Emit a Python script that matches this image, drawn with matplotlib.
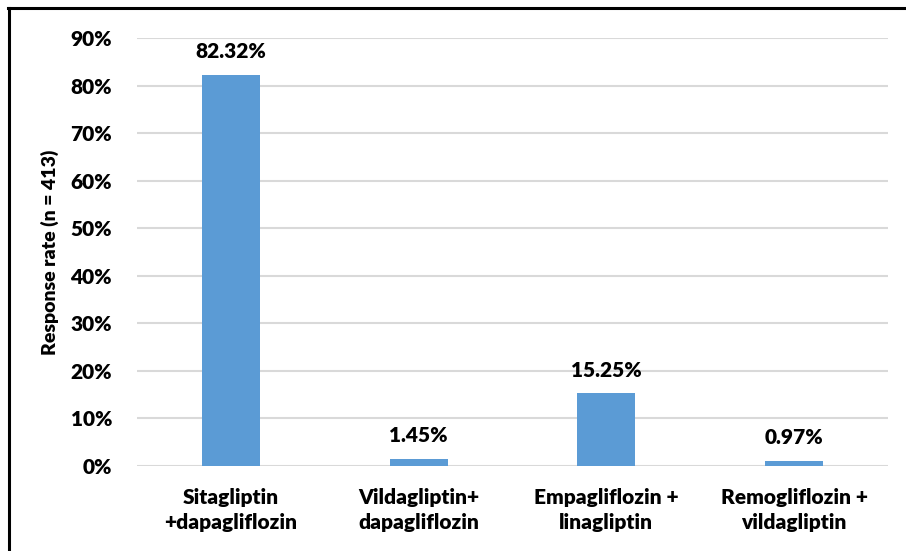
import matplotlib
matplotlib.use("Agg")
import matplotlib.pyplot as plt
from matplotlib.lines import Line2D
from matplotlib.ticker import FuncFormatter

categories = ["Sitagliptin\n+dapagliflozin", "Vildagliptin+\ndapagliflozin",
              "Empagliflozin +\nlinagliptin", "Remogliflozin +\nvildagliptin"]
rates = [82.32, 1.45, 15.25, 0.97]
yticks = [0, 10, 20, 30, 40, 50, 60, 70, 80, 90]

plt.rcParams['font.family'] = ['Lato', 'DejaVu Sans']
plt.rcParams['font.weight'] = 'bold'

W, H = 906, 551
fig = plt.figure(figsize=(W / 100, H / 100), dpi=100)
ax = fig.add_axes([137 / W, (H - 466) / H, (888 - 137) / W, (466 - 38) / H])

x = range(len(categories))
bars = ax.bar(x, rates, width=0.31, color="#5B9BD5", zorder=3)

ax.set_xlim(-0.5, len(categories) - 0.5)
ax.set_ylim(0, 90)
ax.set_yticks(yticks)
ax.yaxis.set_major_formatter(FuncFormatter(lambda v, p: f"{v:.0f}%"))
ax.set_xticks(list(x))
ax.set_xticklabels(categories, fontsize=15, fontweight='heavy', linespacing=1.35)
ax.tick_params(axis='y', labelsize=15, length=0, pad=18)
ax.tick_params(axis='x', length=0, pad=16)
for lbl in ax.get_yticklabels():
    lbl.set_fontweight('heavy')

ax.grid(axis='y', color="#D9D9D9", linewidth=1.5, zorder=0)
for s in ax.spines.values():
    s.set_visible(False)

for b, v in zip(bars, rates):
    ax.annotate(f"{v:.2f}%", (b.get_x() + b.get_width() / 2, v),
                xytext=(0, 10), textcoords="offset points",
                ha="center", va="bottom", fontsize=15, fontweight='heavy')

ax.set_ylabel("Response rate (n = 413)", fontsize=14, fontweight='heavy', labelpad=8)

# frame lines on the top and left edges of the figure
fig.add_artist(Line2D([8 / W, 1], [1 - 8 / H, 1 - 8 / H], color="black", linewidth=2.2,
                      transform=fig.transFigure))
fig.add_artist(Line2D([9 / W, 9 / W], [0, 1 - 8 / H], color="black", linewidth=2.2,
                      transform=fig.transFigure))

fig.savefig("out.png", dpi=100)
